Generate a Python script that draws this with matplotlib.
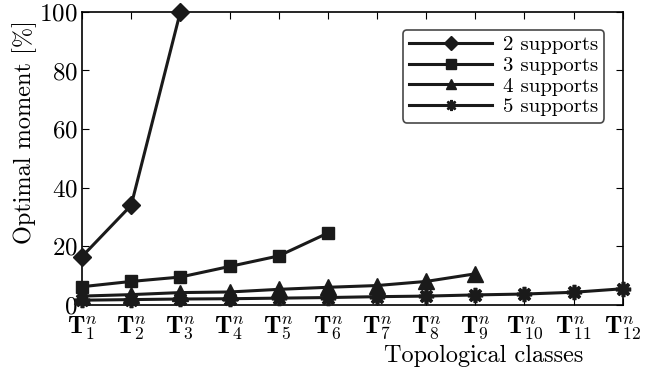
import matplotlib
matplotlib.use("Agg")
import matplotlib.pyplot as plt

plt.rcParams['font.family'] = 'cmr10'
plt.rcParams['mathtext.fontset'] = 'cm'
plt.rcParams['axes.formatter.use_mathtext'] = True

classes = list(range(1, 13))
tick_labels = [r'$\mathbf{T}_{%d}^{n}$' % i for i in classes]

s2 = [16.5, 34.0, 100.0]
s3 = [6.2, 8.0, 9.5, 13.1, 16.7, 24.5]
s4 = [3.0, 3.5, 4.2, 4.4, 5.3, 6.0, 6.6, 8.0, 10.6]
s5 = [1.6, 1.8, 2.0, 2.1, 2.3, 2.5, 2.8, 3.0, 3.4, 3.7, 4.3, 5.5]

series = [(s2, 'D', 9, 1.0, '2 supports'),
          (s3, 's', 9, 1.0, '3 supports'),
          (s4, '^', 11, 1.0, '4 supports'),
          (s5, (8, 2, 0), 11, 2.6, '5 supports')]

fig = plt.figure(figsize=(6.46, 3.70), dpi=100)
ax = fig.add_axes([0.127, 0.176, 0.837, 0.792])

for vals, m, ms, mew, lab in series:
    ax.plot(classes[:len(vals)], vals, color='#1a1a1a', lw=2.2, marker=m,
            markersize=ms, markeredgewidth=mew, label=lab, clip_on=False, zorder=3)

ax.set_xlim(1, 12)
ax.set_ylim(0, 100)
ax.set_xticks(classes)
ax.set_xticklabels(tick_labels, fontsize=18)
ax.set_yticks([0, 20, 40, 60, 80, 100])
ax.tick_params(axis='y', labelsize=18, direction='in', length=5, right=True, pad=3)
ax.tick_params(axis='x', direction='in', length=5, top=True, pad=7)
for sp in ax.spines.values():
    sp.set_linewidth(1.2)
ax.set_ylabel('Optimal moment [%]', fontsize=17.5)
ax.yaxis.set_label_coords(-0.084, 0.59)
ax.set_xlabel('Topological classes', fontsize=17.5)
ax.xaxis.set_label_coords(0.742, -0.135)

leg = ax.legend(loc='upper right', bbox_to_anchor=(0.985, 0.975), numpoints=1,
                fontsize=15, frameon=True, fancybox=True, edgecolor='#1a1a1a',
                handlelength=4.0, labelspacing=0.1, borderpad=0.3, handletextpad=0.5)
leg.get_frame().set_linewidth(1.2)
for h in leg.legend_handles:
    h.set_markersize(7)
leg.legend_handles[3].set_markeredgewidth(1.8)
leg.legend_handles[3].set_markersize(8)

fig.savefig('out.png', dpi=100)
